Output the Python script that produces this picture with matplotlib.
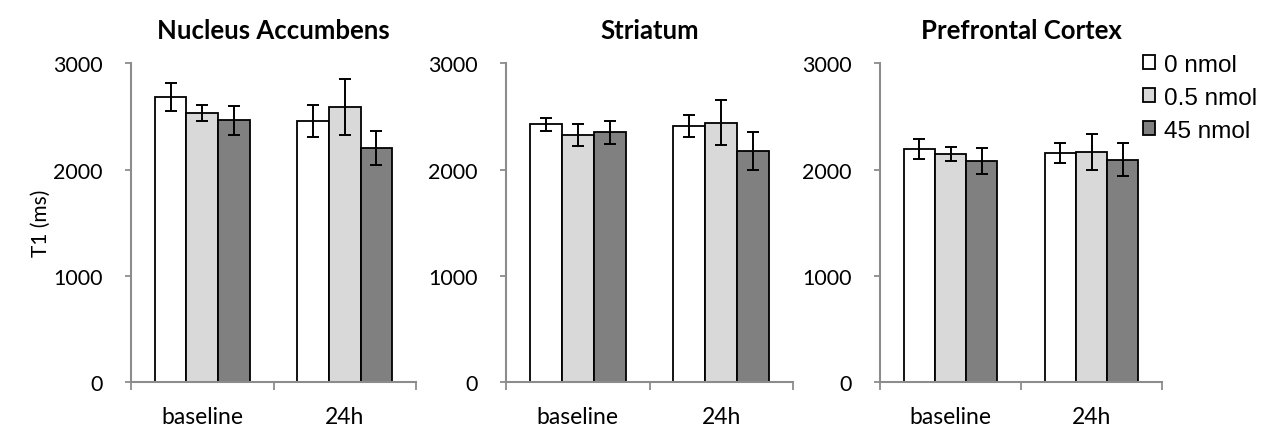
import numpy as np
import matplotlib
matplotlib.use("Agg")
import matplotlib.pyplot as plt

# data
regions = ["Nucleus Accumbens", "Striatum", "Prefrontal Cortex"]
timepoints = ["baseline", "24h"]
doses = ["0 nmol", "0.5 nmol", "45 nmol"]

# means per region: [dose][timepoint]
nac_mean = [[2680, 2460], [2535, 2590], [2465, 2200]]
nac_err = [[133, 150], [75, 260], [138, 160]]
str_mean = [[2425, 2408], [2325, 2439], [2352, 2173]]
str_err = [[60, 103], [107, 212], [110, 179]]
pfc_mean = [[2195, 2157], [2145, 2169], [2082, 2094]]
pfc_err = [[94, 91], [65, 170], [120, 153]]

means = [nac_mean, str_mean, pfc_mean]
errs = [nac_err, str_err, pfc_err]

colors = ["#FFFFFF", "#D9D9D9", "#808080"]
spine_col = "#8C8C8C"

fig = plt.figure(figsize=(12.72, 4.27), dpi=100)
lefts = [131, 506, 880]
widths = [285, 287, 282]
bottom = 1 - 383.3 / 427
height = (383.3 - 64.3) / 427

x = np.arange(len(timepoints))
bw = 0.222
handles = []
for i, reg in enumerate(regions):
    ax = fig.add_axes([lefts[i] / 1272, bottom, widths[i] / 1272, height])
    for d in range(len(doses)):
        b = ax.bar(x + (d - 1) * bw, means[i][d], bw, color=colors[d],
                   edgecolor="black", linewidth=1.3, zorder=2)
        ax.errorbar(x + (d - 1) * bw, means[i][d], yerr=errs[i][d], fmt="none",
                    ecolor="black", elinewidth=1.4, capsize=4.5, capthick=1.4, zorder=3)
        if i == 2:
            handles.append(b)
    ax.set_xlim(-0.5, 1.5)
    ax.set_ylim(0, 3000)
    ax.set_yticks([0, 1000, 2000, 3000])
    ax.set_xticks([-0.5, 0.5, 1.5])
    ax.set_xticklabels([])
    ax.set_xticks(x, minor=True)
    ax.set_xticklabels(timepoints, minor=True, fontsize=16.5, family="Lato")
    ax.tick_params(axis="x", which="major", length=6, width=1.3, color=spine_col, direction="out")
    ax.tick_params(axis="x", which="minor", length=0, pad=17)
    ax.tick_params(axis="y", length=4.5, width=1.3, color=spine_col, pad=16, labelsize=15.5)
    for lab in ax.get_yticklabels():
        lab.set_family("Lato")
    for s in ["top", "right"]:
        ax.spines[s].set_visible(False)
    for s in ["left", "bottom"]:
        ax.spines[s].set_color(spine_col)
        ax.spines[s].set_linewidth(1.5)
    ax.set_title(reg, fontsize=18.5, fontweight="bold", family="Lato", pad=18)
    if i == 0:
        ax.set_ylabel("T1 (ms)", fontsize=15, family="Lato")
        ax.yaxis.set_label_coords((51 - 131) / 285, 0.5)

fig.legend(handles, doses, loc="upper left", bbox_to_anchor=(1126 / 1272, 1 - 38 / 427),
           frameon=False, prop={"family": "Liberation Sans", "size": 17.5},
           handlelength=0.5, handleheight=0.5, handletextpad=0.35, labelspacing=0.45,
           borderpad=0.2)

fig.savefig("out.png", dpi=100)
